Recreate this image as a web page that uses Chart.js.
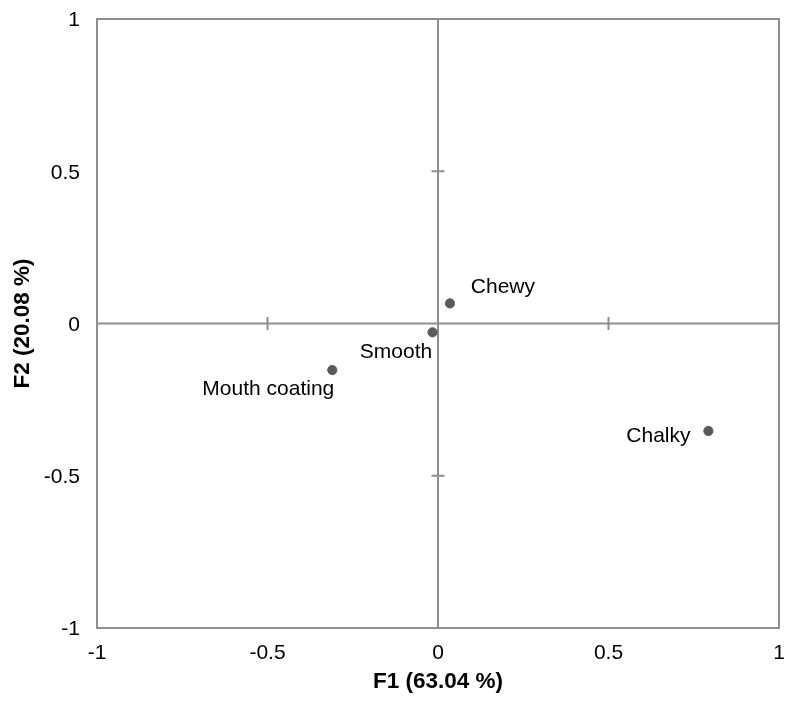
<!DOCTYPE html>
<html>
<head>
<meta charset="utf-8">
<script src="https://cdn.jsdelivr.net/npm/chart.js@4"></script>
<style>
  body { margin: 0; background: #fff; }
  canvas { display: block; }
</style>
</head>
<body>
<canvas id="myChart" width="786" height="706"></canvas>
<script>
// variables on the F1/F2 plane
var names = ['Chewy', 'Smooth', 'Mouth coating', 'Chalky'];
var f1 = [0.035, -0.016, -0.31, 0.793];
var f2 = [0.066, -0.029, -0.153, -0.353];
var ticks = [-1, -0.5, 0, 0.5, 1];
var xTitle = 'F1 (63.04 %)';
var yTitle = 'F2 (20.08 %)';

// where each name sits relative to its dot (px, text centre)
var labelShift = {
    'Chewy': [53, -16.5],
    'Smooth': [-36.5, 19.5],
    'Mouth coating': [-64, 19.5],
    'Chalky': [-50, 5.5]
};

var axisGrey = '#8f8f8f';
var FAMILY = '"Liberation Sans", Arial, sans-serif';

function putText(c, str, x, y, font, align, rotate) {
    c.save();
    c.font = font;
    c.fillStyle = '#000';
    c.textAlign = align || 'center';
    c.textBaseline = 'middle';
    c.translate(x, y);
    if (rotate) c.rotate(rotate);
    c.fillText(str, 0, 0);
    c.restore();
}

// zero axes with small cross ticks, then the point names
var centreAxes = {
    id: 'centreAxes',
    beforeDatasetsDraw: function (chart) {
        var c = chart.ctx, xs = chart.scales.x, ys = chart.scales.y;
        var x0 = xs.getPixelForValue(0), y0 = ys.getPixelForValue(0);
        c.save();
        c.strokeStyle = axisGrey;
        c.lineWidth = 2;
        c.beginPath();
        c.moveTo(xs.left, y0); c.lineTo(xs.right, y0);
        c.moveTo(x0, ys.top); c.lineTo(x0, ys.bottom);
        ticks.forEach(function (t) {
            if (t === 0 || Math.abs(t) === 1) return;
            var px = xs.getPixelForValue(t), py = ys.getPixelForValue(t);
            c.moveTo(px, y0 - 6.5); c.lineTo(px, y0 + 6.5);
            c.moveTo(x0 - 6.5, py); c.lineTo(x0 + 6.5, py);
        });
        c.stroke();
        c.restore();
    },
    afterDatasetsDraw: function (chart) {
        var c = chart.ctx, meta = chart.getDatasetMeta(0);
        meta.data.forEach(function (pt, i) {
            var s = labelShift[names[i]];
            putText(c, names[i], pt.x + s[0], pt.y + s[1], '21px ' + FAMILY);
        });
    }
};

// frame, tick labels and axis titles
var frame = {
    id: 'frame',
    afterDraw: function (chart) {
        var a = chart.chartArea, c = chart.ctx;
        var xs = chart.scales.x, ys = chart.scales.y;
        c.save();
        c.strokeStyle = axisGrey;
        c.lineWidth = 2;
        c.strokeRect(a.left, a.top, a.right - a.left, a.bottom - a.top);
        c.restore();

        var tf = '21px ' + FAMILY;
        xs.ticks.forEach(function (t) {
            putText(c, String(t.value), xs.getPixelForValue(t.value), a.bottom + 25, tf);
        });
        ys.ticks.forEach(function (t) {
            putText(c, String(t.value), a.left - 17, ys.getPixelForValue(t.value) + 1.5, tf, 'right');
        });

        var hf = 'bold 22.5px ' + FAMILY;
        putText(c, xTitle, (a.left + a.right) / 2, a.bottom + 54, hf);
        putText(c, yTitle, 23, (a.top + a.bottom) / 2, hf, 'center', -Math.PI / 2);
    }
};

function setTicks(s) {
    s.ticks = ticks.map(function (v) { return { value: v }; });
}

var ctx = document.getElementById('myChart').getContext('2d');
var chart = new Chart(ctx, {
    type: 'scatter',
    data: {
        datasets: [{
            data: f1.map(function (v, i) { return { x: v, y: f2[i] }; }),
            backgroundColor: '#5a5a5a',
            borderColor: '#5a5a5a',
            pointRadius: 4.6,
            pointHoverRadius: 4.6
        }]
    },
    options: {
        responsive: false,
        animation: false,
        events: [],
        layout: { padding: { top: 19, right: 7, left: 0, bottom: 0 } },
        plugins: { legend: { display: false }, tooltip: { enabled: false } },
        scales: {
            x: {
                type: 'linear', min: -1, max: 1,
                afterBuildTicks: setTicks,
                afterFit: function (s) { s.height = 78; s.paddingLeft = 0; s.paddingRight = 0; },
                grid: { display: false, drawTicks: false },
                border: { display: false },
                ticks: { display: false }
            },
            y: {
                type: 'linear', min: -1, max: 1,
                afterBuildTicks: setTicks,
                afterFit: function (s) { s.width = 97; s.paddingTop = 0; s.paddingBottom = 0; },
                grid: { display: false, drawTicks: false },
                border: { display: false },
                ticks: { display: false }
            }
        }
    },
    plugins: [centreAxes, frame]
});
</script>
</body>
</html>
